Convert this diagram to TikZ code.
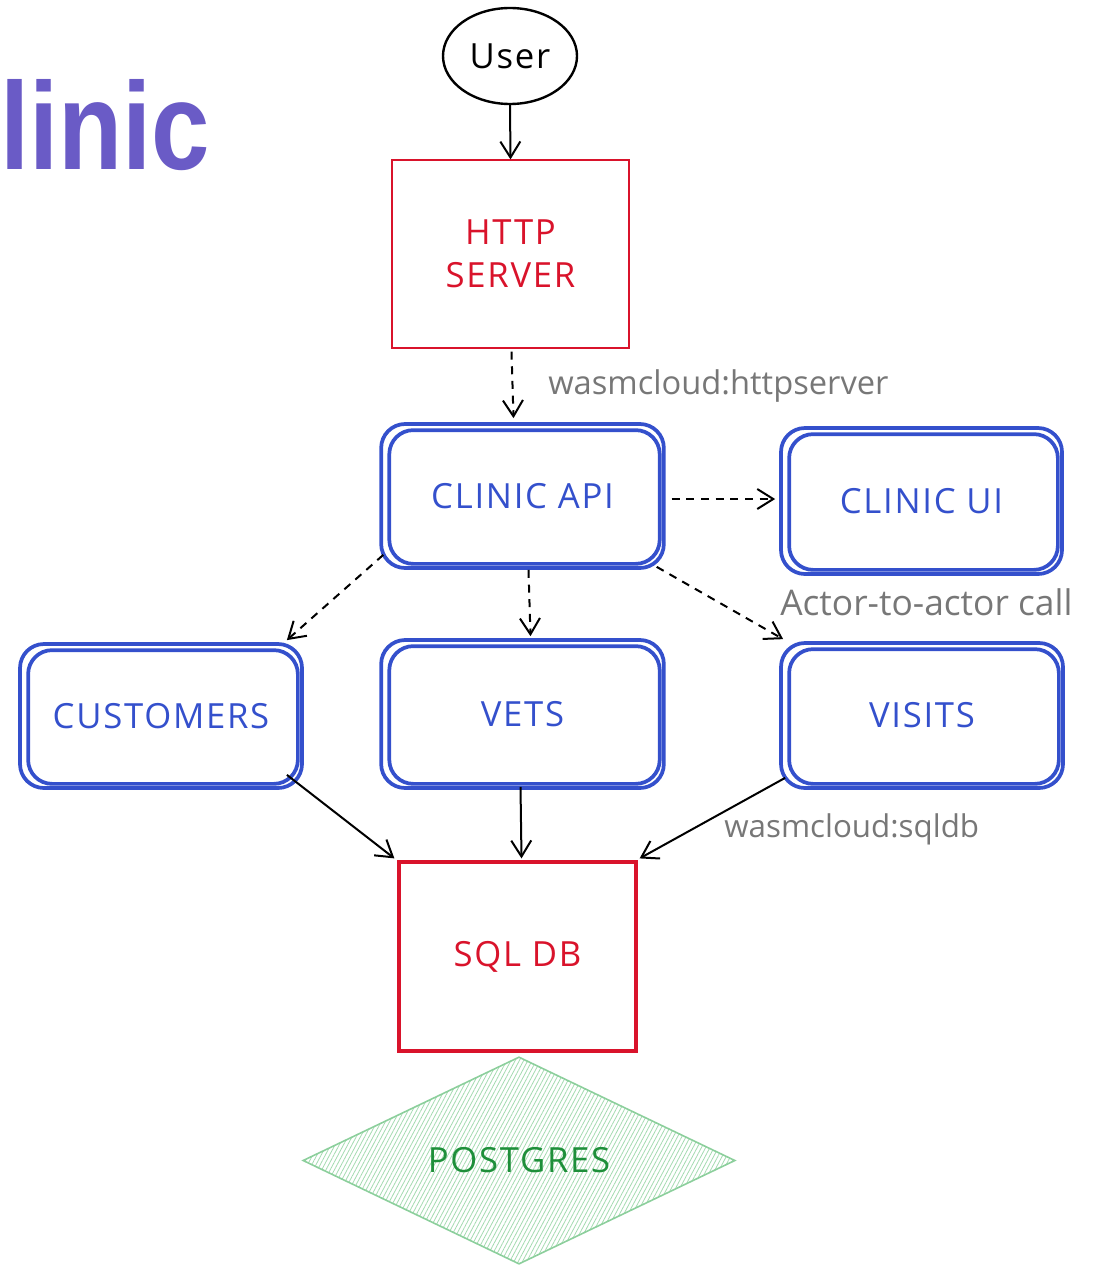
\documentclass[tikz,border=0pt]{standalone}
\usepackage{fontspec}
\setmainfont{Open Sans}
\newfontfamily\titlefont{Liberation Sans}
\newfontfamily\boxfont[LetterSpace=5]{Open Sans}
\usetikzlibrary{arrows.meta,shapes.geometric,calc,patterns.meta}

\definecolor{actblue}{HTML}{3450CC}
\definecolor{boxred}{HTML}{D9132B}
\definecolor{linkgray}{HTML}{777777}
\definecolor{pgline}{HTML}{8CCF9C}
\definecolor{pghatch}{HTML}{A3DAB0}
\definecolor{pgtext}{HTML}{1E8F3A}
\definecolor{titlepurple}{HTML}{6A5BC6}

\tikzset{
  hand/.style={font=\boxfont\fontsize{26pt}{32pt}\selectfont, align=center, inner sep=0pt},
  actor/.style={hand, draw=actblue, text=actblue, line width=2.8pt,
    rounded corners=18pt, minimum width=212pt, minimum height=108pt},
  actorinner/.style={draw=actblue, line width=2.8pt, rounded corners=18pt},
  provider/.style={hand, draw=boxred, text=boxred, minimum width=177.75pt},
  linklabel/.style={font=\fontsize{24.5pt}{30pt}\selectfont, text=linkgray,
    anchor=west, inner sep=0pt},
  flow/.style={draw=black, line width=1.5pt,
    -{Straight Barb[length=12pt,width=15pt,line width=1.5pt]}},
  call/.style={flow, dash pattern=on 6pt off 5pt},
}

% second pass of the hand-drawn actor outline
\newcommand\innerstroke[1]{%
  \draw[actorinner] ($(#1.north west)+(10,8)$) rectangle ($(#1.south east)+(-6,-6)$);}

\begin{document}
\begin{tikzpicture}[x=0.75pt,y=-0.75pt]
\useasboundingbox (0,0) rectangle (1119,1266);

% page title
\node[anchor=base west, inner sep=0pt, text=titlepurple] (title) at (0,170)
  {\resizebox{157.5pt}{67.5pt}{\titlefont\bfseries linic}};

% user and HTTP server provider
\node[hand, shape=ellipse, draw=black, line width=1.8pt,
  minimum width=100.5pt, minimum height=72pt] (user) at (510,56) {User};
\node[provider, line width=0.9pt, minimum height=141pt] (http) at (510.5,254)
  {HTTP\\SERVER};

% actors
\node[actor] (api) at (522.5,496) {CLINIC API};
\innerstroke{api}
\node[actor, minimum width=210.75pt, minimum height=109.5pt] (ui) at (921.5,501) {CLINIC UI};
\innerstroke{ui}
\node[actor, minimum width=211.5pt] (cust) at (161,716) {CUSTOMERS};
\innerstroke{cust}
\node[actor, minimum height=111pt] (vets) at (522.5,714) {VETS};
\innerstroke{vets}
\node[actor, minimum width=211.5pt, minimum height=108.75pt] (visits) at (922,715.5) {VISITS};
\innerstroke{visits}

% database provider and backing store
\node[provider, line width=2.4pt, minimum height=141.75pt] (sql) at (517.5,956.5) {SQL DB};
\node[hand, shape=diamond, aspect=2.09, minimum width=324pt, minimum height=155.25pt,
  draw=pgline, line width=1.2pt, text=pgtext,
  pattern={Lines[angle=62,distance=2.8pt,line width=0.6pt]}, pattern color=pghatch]
  (pg) at (519,1160.5) {};
\node[hand, text=pgtext] (pglabel) at (pg.center) {POSTGRES};

% connectors
\draw[flow] (user.south) -- (http.north);
\draw[call] ($(http.south)+(1,3)$) -- ($(api.north)+(-9,-4)$);
\draw[call] ($(api.east)+(6,3)$) -- ($(ui.west)+(-4,-2)$);
\draw[call] ($(api.south west)+(4,-15)$) -- ($(cust.north east)+(-17,-2)$);
\draw[call] ($(api.south)+(6,0)$) -- ($(vets.north)+(8,-2)$);
\draw[call] ($(api.south east)+(-9,-3)$) -- ($(visits.north west)+(4,-2)$);
\draw[flow] ($(cust.south east)+(-17,-15)$) -- ($(sql.north west)+(-3,-2)$);
\draw[flow] ($(vets.south)+(-2,-3)$) -- ($(sql.north)+(4,-2)$);
\draw[flow] ($(visits.south west)+(6,-12)$) -- ($(sql.north east)+(2,-2)$);

% interface labels
\node[linklabel] (lhttp) at (548,386) {wasmcloud:httpserver};
\node[linklabel, font=\fontsize{26.5pt}{32pt}\selectfont] (lcall) at (780,602) {Actor-to-actor call};
\node[linklabel, font=\fontsize{23.5pt}{28pt}\selectfont] (lsql) at (724,829) {wasmcloud:sqldb};
\end{tikzpicture}
\end{document}
